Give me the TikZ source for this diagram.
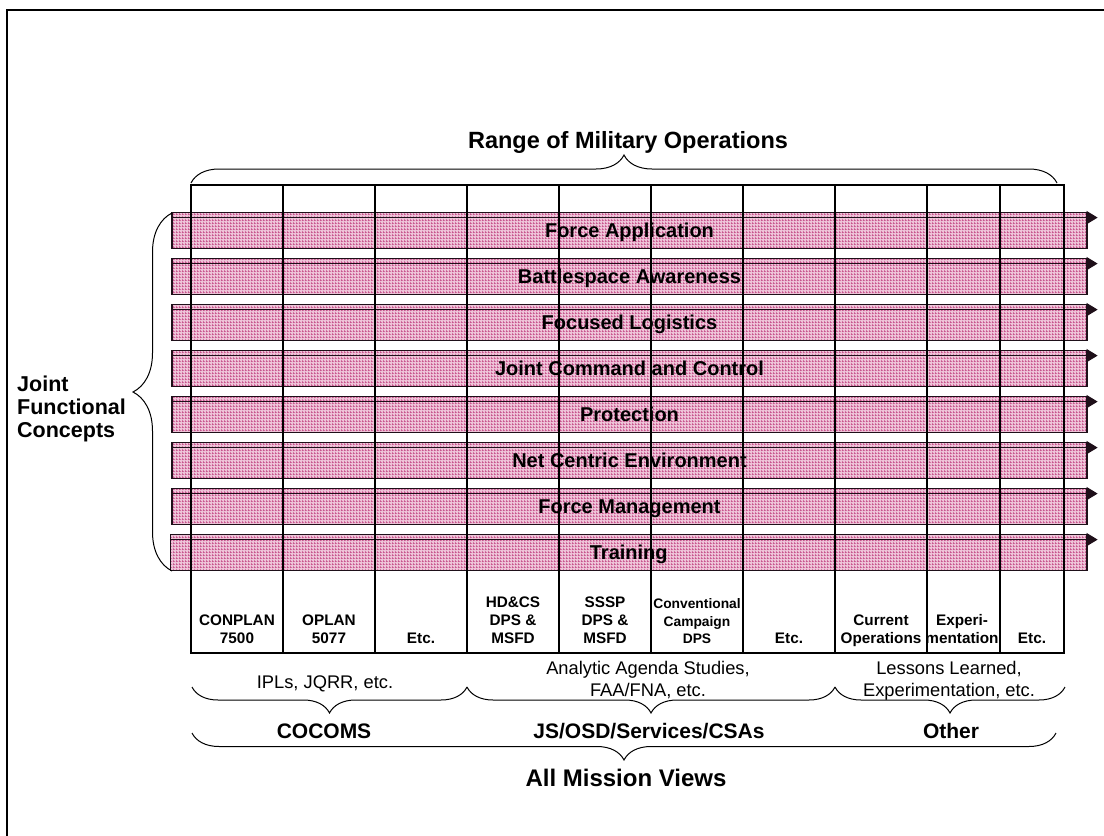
\documentclass[tikz,border=0pt]{standalone}
\usepackage{fontspec}
\setmainfont{Liberation Sans}
\usetikzlibrary{arrows.meta,decorations.pathreplacing,patterns.meta,calc}
\definecolor{barbg}{RGB}{238,196,216}
\definecolor{bargrid}{RGB}{196,74,134}
\definecolor{barline}{RGB}{30,15,25}
\tikzdeclarepattern{name=pinkgrid,type=uncolored,
  bounding box={(0pt,0pt) and (2.5pt,2.5pt)},
  tile size={(2.5pt,2.5pt)},
  code={\draw[line width=0.8pt] (0pt,0.4pt) -- (2.5pt,0.4pt) (0.4pt,0pt) -- (0.4pt,2.5pt);}}
\tikzset{
  bar/.style={draw=barline, line width=1.3pt, preaction={fill=barbg},
    pattern=pinkgrid, pattern color=bargrid,
    minimum width=915pt, minimum height=36.5pt, inner sep=0pt,
    font=\fontsize{20}{24}\selectfont\bfseries, text height=14.3pt, text depth=0pt},
  barrow/.style={draw=barline, line width=1.3pt, -{Triangle[length=11pt,width=13pt]}},
  tbl/.style={draw=black, line width=1.2pt},
  brc/.style={decorate, decoration={brace, amplitude=#1}, line width=1pt},
  cell/.style={font=\fontsize{15.3}{18}\selectfont\bfseries, align=center, anchor=south,
    inner sep=0pt, text depth=0pt},
  note/.style={font=\fontsize{18.3}{22}\selectfont, align=center, inner sep=0pt},
  grp/.style={font=\fontsize{21}{25}\selectfont\bfseries, anchor=base, inner sep=0pt},
  big/.style={font=\fontsize{23.5}{28}\selectfont\bfseries, anchor=base, inner sep=0pt},
  frame/.style={draw=black, line width=2.3pt}
}
\begin{document}
\begin{tikzpicture}[x=1pt,y=-1pt]
\useasboundingbox (0,0) rectangle (1104,836);
\clip (0,0) rectangle (1104,836);
% outer frame
\draw[frame] (7,850) -- (7,10) -- (1120,10);

% title and top brace
\node[big] (title) at (628,148) {Range of Military Operations};
\draw[brc=28pt] (191,183) -- (1057,183);

% bars
\node[bar] (b1) at (629.5,230.5) {Force Application};
\node[bar] (b2) at (629.5,276.5) {Battlespace Awareness};
\node[bar] (b3) at (629.5,322.5) {Focused Logistics};
\node[bar] (b4) at (629.5,368.5) {Joint Command and Control};
\node[bar] (b5) at (629.5,414.5) {Protection};
\node[bar] (b6) at (629.5,460.5) {Net Centric Environment};
\node[bar] (b7) at (629.5,506.5) {Force Management};
\node[bar, minimum width=916.5pt] (b8) at (628.75,552.5) {Training};
\foreach \b in {b1,b2,b3,b4,b5,b6,b7,b8}{
  \draw[barrow] ([yshift=-6pt]\b.north west) -- ([xshift=10pt,yshift=-6pt]\b.north east);
}

% table grid drawn over the bars
\draw[tbl] (191,185) rectangle (1064,653);
\foreach \x in {283,375,467,559,651,743,835,927,1000}{
  \draw[tbl] (\x,185) -- (\x,653);
}

% left brace and label
\draw[brc=39pt] (172,571) -- (172,213);
\node[font=\fontsize{21.5}{23.3}\selectfont\bfseries, align=left, anchor=south west,
  inner sep=0pt, text depth=0pt] (jfc) at (17,438) {Joint\\Functional\\Concepts};

% bottom cells
\node[cell] (c1) at (237,644) {CONPLAN\\7500};
\node[cell] (c2) at (329,644) {OPLAN\\5077};
\node[cell] (c3) at (421,644) {Etc.};
\node[cell] (c4) at (513,644) {HD\&CS\\DPS \&\\MSFD};
\node[cell] (c5) at (605,644) {SSSP\\DPS \&\\MSFD};
\node[cell, font=\fontsize{13.8}{17.6}\selectfont\bfseries] (c6) at (697,644) {Conventional\\Campaign\\DPS};
\node[cell] (c7) at (789,644) {Etc.};
\node[cell] (c8) at (881,644) {Current\\Operations};
\node[cell] (c9) at (962,644) {Experi-\\mentation};
\node[cell] (c10) at (1032,644) {Etc.};

% notes under the table
\node[note, anchor=base] (n1) at (325,688) {IPLs, JQRR, etc.};
\node[note, anchor=south, text depth=0pt] (n2) at (648,697) {Analytic Agenda Studies,\\FAA/FNA, etc.};
\node[note, anchor=south, text depth=0pt] (n3) at (949,697) {Lessons Learned,\\Experimentation, etc.};

% sub braces
\draw[brc=26pt] (467,687) -- (192,687);
\draw[brc=26pt] (835,687) -- (467,687);
\draw[brc=26pt] (1065,687) -- (835,687);

% group labels
\node[grp] (g1) at (324,738) {COCOMS};
\node[grp] (g2) at (649,738) {JS/OSD/Services/CSAs};
\node[grp] (g3) at (951,738) {Other};

% big bottom brace and label
\draw[brc=27pt] (1056,733) -- (192,733);
\node[big, font=\fontsize{24}{28}\selectfont\bfseries] (amv) at (626,786.5) {All Mission Views};
\end{tikzpicture}
\end{document}
